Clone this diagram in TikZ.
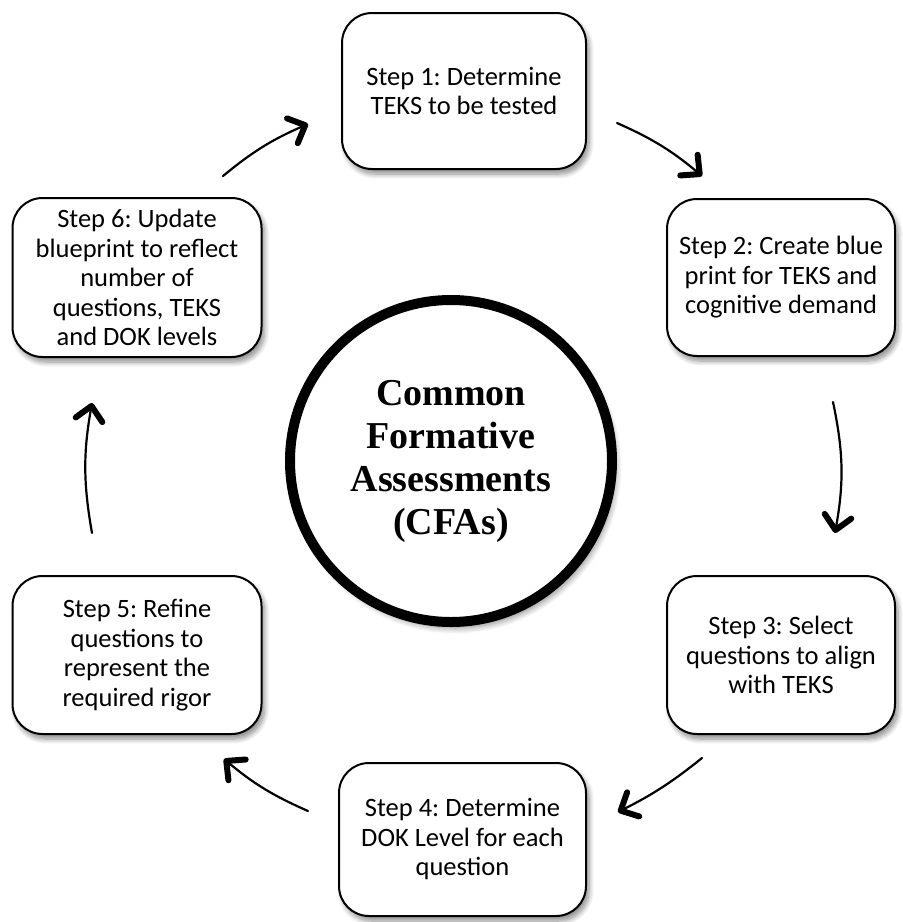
\documentclass[tikz,border=0pt]{standalone}
\usepackage{fontspec}
\setmainfont{Carlito}
\newfontfamily\cfafont{Liberation Serif}
\usetikzlibrary{arrows.meta,shadows.blur}
\frenchspacing
\begin{document}
\begin{tikzpicture}[x=1pt,y=-1pt,
  stepbox/.style={draw=black, line width=2pt, rounded corners=30pt, fill=white,
    align=center, inner sep=0pt, font=\fontsize{26.5}{29.5}\selectfont,
    blur shadow={shadow xshift=3pt, shadow yshift=-5pt, shadow blur steps=8, shadow blur radius=5pt, shadow opacity=45}},
  hub/.style={circle, draw=black, line width=10pt, fill=white, minimum size=322pt, inner sep=0pt,
    align=center, font=\cfafont\bfseries\fontsize{38}{43}\selectfont,
    blur shadow={shadow xshift=4pt, shadow yshift=-6pt, shadow blur steps=8, shadow blur radius=6pt, shadow opacity=45}},
  flow/.style={line width=2.2pt, line cap=round,
    -{Straight Barb[length=14pt, width=27pt, line width=6pt, round]}}
]
\useasboundingbox (0,0) rectangle (903,922);

\node[stepbox, minimum width=244pt, minimum height=156pt] (b1) at (464,91) {Step 1: Determine\\TEKS to be tested};
\node[stepbox, minimum width=228pt, minimum height=157pt] (b2) at (781,277.5) {Step 2: Create blue\\print for TEKS and\\cognitive demand};
\node[stepbox, minimum width=228pt, minimum height=158pt] (b3) at (781,655) {Step 3: Select\\questions to align\\with TEKS};
\node[stepbox, minimum width=247pt, minimum height=153pt] (b4) at (462.5,839.5) {Step 4: Determine\\DOK Level for each\\question};
\node[stepbox, minimum width=249pt, minimum height=158pt] (b5) at (137,655) {Step 5: Refine\\questions to\\represent the\\required rigor};
\node[stepbox, minimum width=249pt, minimum height=159pt] (b6) at (137,277.5) {Step 6: Update\\blueprint to reflect\\number of\\questions, TEKS\\and DOK levels};

\node[hub] (c) at (451,461) {Common\\Formative\\Assessments\\(CFAs)};

\coordinate (a1s) at (223,176); \coordinate (a1e) at (308,124);
\coordinate (a2s) at (617,123); \coordinate (a2e) at (702,176);
\coordinate (a3s) at (833,402); \coordinate (a3e) at (835,533);
\coordinate (a4s) at (702,758); \coordinate (a4e) at (618,812);
\coordinate (a5s) at (308,811); \coordinate (a5e) at (224,759);
\coordinate (a6s) at (92,533);  \coordinate (a6e) at (92,403);

\draw[flow] (a1s) to[bend left=8] (a1e);
\draw[flow] (a2s) to[bend left=8] (a2e);
\draw[flow] (a3s) to[bend left=11] (a3e);
\draw[flow] (a4s) to[bend left=6] (a4e);
\draw[flow] (a5s) to[bend left=8] (a5e);
\draw[flow] (a6s) to[bend left=10] (a6e);
\end{tikzpicture}
\end{document}
